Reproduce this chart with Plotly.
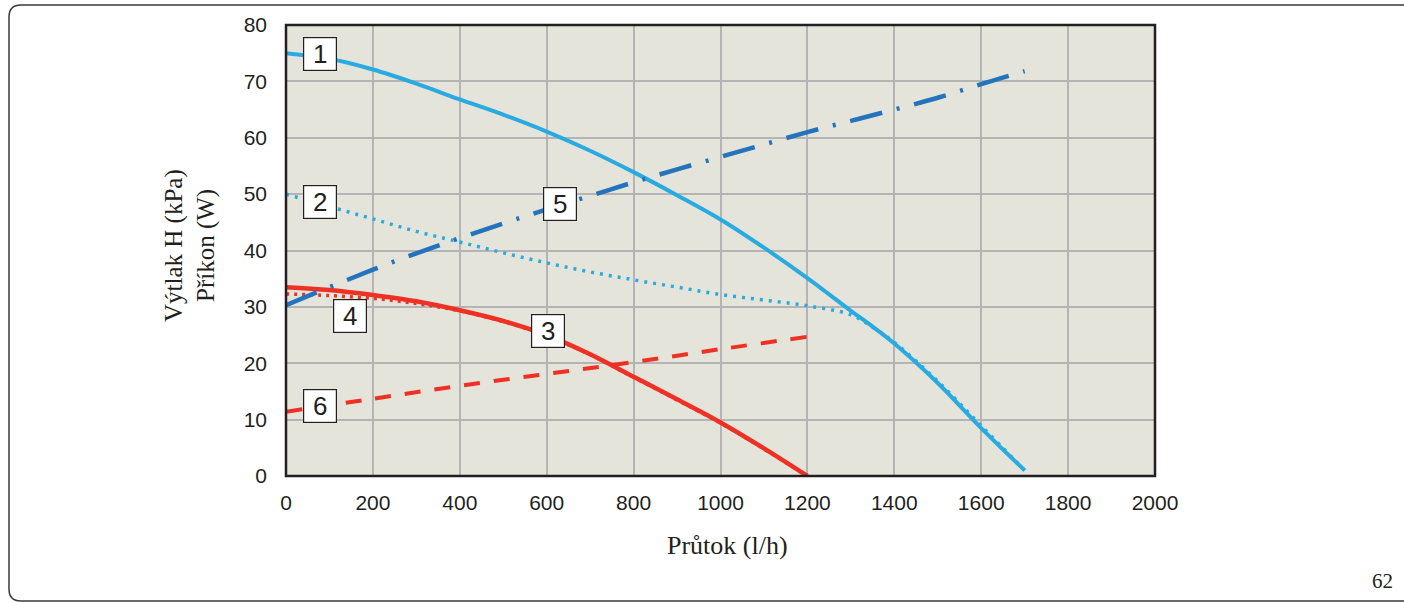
import plotly.graph_objects as go

# Flow rate (l/h)
flow_1 = [0, 100, 200, 300, 400, 500, 600, 700, 800, 900, 1000, 1100, 1200, 1300, 1350, 1400, 1500, 1600, 1700]
head_1 = [75.0, 74.0, 72.1, 69.6, 66.8, 64.1, 61.1, 57.7, 53.9, 49.8, 45.5, 40.5, 35.1, 29.3, 26.5, 23.5, 16.5, 8.5, 1.0]

flow_2 = [0, 100, 200, 300, 400, 500, 600, 700, 800, 900, 1000, 1100, 1200, 1300, 1350, 1400, 1500, 1600, 1700]
head_2 = [50.0, 47.8, 45.6, 43.4, 41.5, 39.6, 37.8, 36.2, 34.8, 33.5, 32.2, 31.2, 30.2, 28.6, 26.4, 23.7, 16.8, 8.9, 1.0]

flow_3 = [0, 100, 200, 300, 400, 500, 600, 700, 800, 900, 1000, 1100, 1200]
head_3 = [33.5, 33.0, 32.1, 31.0, 29.4, 27.5, 25.0, 21.6, 17.6, 13.6, 9.5, 4.9, 0.0]

flow_4 = [0, 100, 200, 300, 400, 500, 600, 700, 800, 900, 1000, 1100, 1200]
head_4 = [32.3, 32.0, 31.5, 30.6, 29.3, 27.4, 24.9, 21.5, 17.5, 13.5, 9.4, 4.8, 0.0]

flow_5 = [0, 100, 200, 300, 400, 500, 600, 700, 800, 900, 1000, 1100, 1200, 1300, 1400, 1500, 1600, 1700]
power_5 = [30.3, 33.5, 36.6, 39.5, 42.2, 44.8, 47.3, 49.7, 52.1, 54.4, 56.6, 58.8, 61.0, 63.0, 65.0, 67.1, 69.5, 71.8]

flow_6 = [0, 200, 400, 600, 800, 1000, 1200]
power_6 = [11.4, 13.7, 16.0, 18.1, 20.2, 22.5, 24.7]

# Curve number tags: (label, flow, value)
tag_labels = ["1", "2", "3", "4", "5", "6"]
tag_flow = [78, 79, 602, 147, 630, 79]
tag_value = [74.8, 48.6, 25.8, 28.4, 48.2, 12.4]

x_ticks = [0, 200, 400, 600, 800, 1000, 1200, 1400, 1600, 1800, 2000]
y_ticks = [0, 10, 20, 30, 40, 50, 60, 70, 80]

LIGHT_BLUE = "#29abe2"
DARK_BLUE = "#2474bd"
RED = "#ee3124"

fig = go.Figure()

fig.add_trace(go.Scatter(x=flow_4, y=head_4, mode="lines", line_shape="spline",
                         line=dict(color=RED, width=3.5, dash="3px,5px")))
fig.add_trace(go.Scatter(x=flow_3, y=head_3, mode="lines", line_shape="spline",
                         line=dict(color=RED, width=4.5)))
fig.add_trace(go.Scatter(x=flow_6, y=power_6, mode="lines", line_shape="spline",
                         line=dict(color=RED, width=4, dash="16px,14px")))
fig.add_trace(go.Scatter(x=flow_2, y=head_2, mode="lines", line_shape="spline",
                         line=dict(color=LIGHT_BLUE, width=3.5, dash="3px,6px")))
fig.add_trace(go.Scatter(x=flow_1, y=head_1, mode="lines", line_shape="spline",
                         line=dict(color=LIGHT_BLUE, width=4)))
fig.add_trace(go.Scatter(x=flow_5, y=power_5, mode="lines", line_shape="spline",
                         line=dict(color=DARK_BLUE, width=4.5, dash="33px,15px,3px,15px")))

annotations = []
for lab, fx, fy in zip(tag_labels, tag_flow, tag_value):
    annotations.append(dict(
        x=fx, y=fy, xref="x", yref="y", text=lab, showarrow=False,
        font=dict(family="Liberation Sans, Arial", size=26, color="#231f20"),
        bgcolor="white", bordercolor="#231f20", borderwidth=1.2, borderpad=0,
        width=32, height=32, align="center", valign="middle"))

# plot area spans pixels 286..1155 horizontally and 25..476 vertically
L, R, T, B = 286, 1155, 25, 476
W, H = 1404, 602


def px(xp):
    return (xp - L) / (R - L)


def py(yp):
    return (B - yp) / (B - T)


SERIF = "Liberation Serif, Times New Roman"
for line_text, xp in (("Výtlak H (kPa)", 174), ("Příkon (W)", 206)):
    annotations.append(dict(
        x=px(xp), y=py(246), xref="paper", yref="paper", showarrow=False,
        xanchor="center", yanchor="middle",
        text=line_text, textangle=-90,
        font=dict(family=SERIF, size=25, color="#231f20")))
annotations.append(dict(
    x=px(727), y=py(545), xref="paper", yref="paper", showarrow=False,
    xanchor="center", yanchor="middle",
    text="Průtok (l/h)",
    font=dict(family=SERIF, size=26, color="#231f20")))
annotations.append(dict(
    x=px(1382), y=py(581), xref="paper", yref="paper", showarrow=False,
    xanchor="center", yanchor="middle",
    text="62",
    font=dict(family=SERIF, size=21, color="#231f20")))

# rounded page frame
x0, y0, x1, y1, r = px(9), py(5), px(1410), py(601), 12
rx, ry = r / (R - L), r / (B - T)
frame_path = (f"M {x1},{y1} L {x0 + rx},{y1} Q {x0},{y1} {x0},{y1 + ry} "
              f"L {x0},{y0 - ry} Q {x0},{y0} {x0 + rx},{y0} L {x1},{y0}")

fig.update_layout(
    width=W, height=H,
    margin=dict(l=L, r=W - R, t=T, b=H - B),
    paper_bgcolor="white", plot_bgcolor="#e5e4da",
    showlegend=False,
    annotations=annotations,
    shapes=[dict(type="path", path=frame_path, xref="paper", yref="paper",
                 line=dict(color="#3a3a3a", width=1.5)),
            dict(type="rect", x0=0, x1=1, y0=0, y1=1, xref="paper", yref="paper",
                 line=dict(color="#231f20", width=2.5), layer="above")],
    xaxis=dict(range=[0, 2000], tickvals=x_ticks, showgrid=True, gridcolor="#b4b4b4",
               gridwidth=2, zeroline=False, ticks="", showline=False,
               tickfont=dict(family="Liberation Sans, Arial", size=21, color="#231f20"),
               ticklabelstandoff=12),
    yaxis=dict(range=[0, 80], tickvals=y_ticks, showgrid=True, gridcolor="#b4b4b4",
               gridwidth=2, zeroline=False, ticks="", showline=False,
               tickfont=dict(family="Liberation Sans, Arial", size=21, color="#231f20"),
               ticklabelstandoff=18),
)

fig.write_html("out.html")
